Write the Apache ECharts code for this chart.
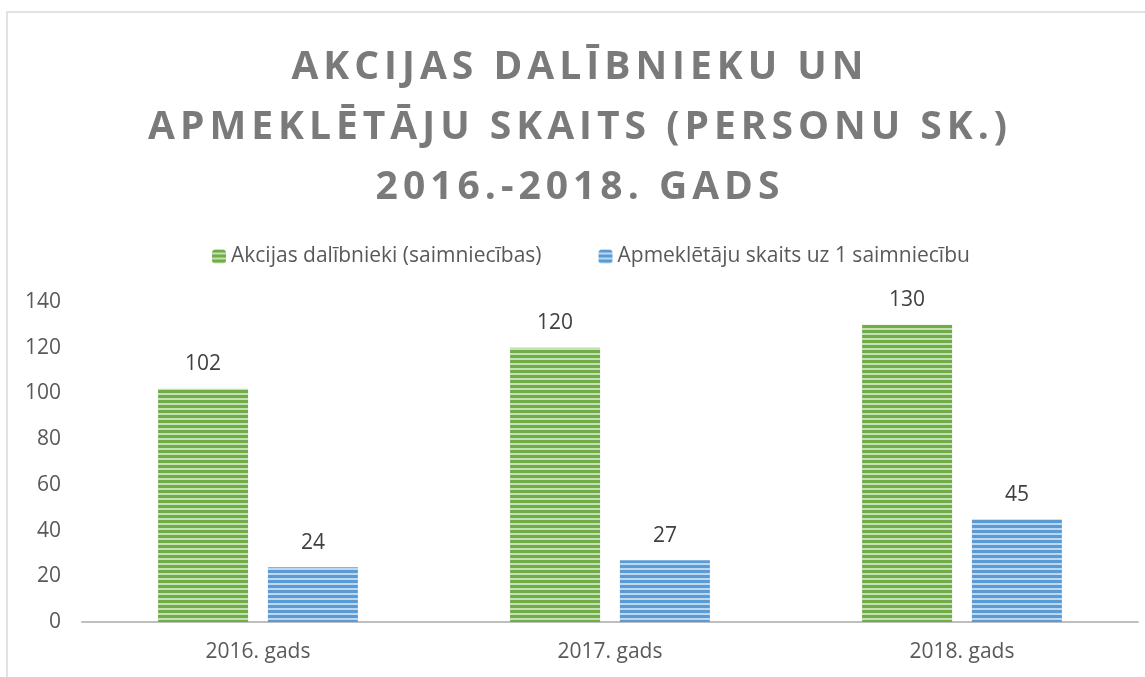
<!DOCTYPE html>
<html><head><meta charset="utf-8">
<script src="https://cdn.jsdelivr.net/npm/echarts@6/dist/echarts.min.js"></script>
<style>html,body{margin:0;padding:0;background:#fff}#c{width:1145px;height:677px}</style>
</head><body><div id="c"></div>
<script>
const categories = ['2016. gads', '2017. gads', '2018. gads'];
const seriesNames = ['Akcijas dalībnieki (saimniecības)', 'Apmeklētāju skaits uz 1 saimniecību'];
const participants = [102, 120, 130];
const visitors = [24, 27, 45];
const yTicks = [0, 20, 40, 60, 80, 100, 120, 140];

// letter spacing for the title only (font size 39px is used only there)
(function () {
  const proto = CanvasRenderingContext2D.prototype;
  const orig = proto.fillText;
  proto.fillText = function (t, x, y, m) {
    if ('letterSpacing' in this) this.letterSpacing = this.font.indexOf('39px') >= 0 ? '5px' : '0px';
    return m === undefined ? orig.call(this, t, x, y) : orig.call(this, t, x, y, m);
  };
})();

function stripe(dark, light) {
  const c = document.createElement('canvas');
  c.width = 4; c.height = 5;
  const g = c.getContext('2d');
  g.fillStyle = light; g.fillRect(0, 0, 4, 5);
  g.fillStyle = dark; g.fillRect(0, 0, 4, 3);
  return { image: c, repeat: 'repeat' };
}
const greenPat = stripe('#70ad47', '#c5e0b4');
const bluePat = stripe('#5b9bd5', '#bdd7ee');
const font = 'Open Sans';

const chart = echarts.init(document.getElementById('c'));
chart.setOption({
  animation: false,
  graphic: [{ type: 'rect', shape: { x: 7, y: 12, width: 1200, height: 700 }, style: { fill: 'none', stroke: '#d9d9d9', lineWidth: 1.5 } }],
  title: {
    text: 'AKCIJAS DALĪBNIEKU UN\nAPMEKLĒTĀJU SKAITS (PERSONU SK.)\n2016.-2018. GADS',
    left: 575, textAlign: 'center', top: 33,
    textStyle: { fontFamily: font, fontWeight: 'bold', fontSize: 39, color: '#7a7a7a', lineHeight: 60 }
  },
  legend: {
    top: 241, left: 207, itemGap: 57, itemWidth: 14, itemHeight: 14,
    textStyle: { fontFamily: font, fontSize: 21, color: '#595959' },
    data: seriesNames
  },
  grid: { left: 82, right: 7, top: 302, bottom: 55, containLabel: false },
  xAxis: {
    type: 'category', data: categories,
    axisLine: { lineStyle: { color: '#bfbfbf', width: 2 } },
    axisTick: { show: false },
    axisLabel: { fontFamily: font, fontSize: 21, color: '#595959', margin: 20 }
  },
  yAxis: {
    type: 'value', min: yTicks[0], max: yTicks[yTicks.length - 1], interval: 20,
    axisLine: { show: false }, axisTick: { show: false }, splitLine: { show: false },
    axisLabel: { fontFamily: font, fontSize: 21, color: '#595959', margin: 21 }
  },
  series: [
    { name: seriesNames[0], type: 'bar', data: participants, barWidth: 90, barGap: '22%',
      itemStyle: { color: greenPat },
      label: { show: true, position: 'top', distance: 14, fontFamily: font, fontSize: 21, color: '#404040' } },
    { name: seriesNames[1], type: 'bar', data: visitors, barWidth: 90,
      itemStyle: { color: bluePat },
      label: { show: true, position: 'top', distance: 14, fontFamily: font, fontSize: 21, color: '#404040' } }
  ]
});
</script></body></html>
